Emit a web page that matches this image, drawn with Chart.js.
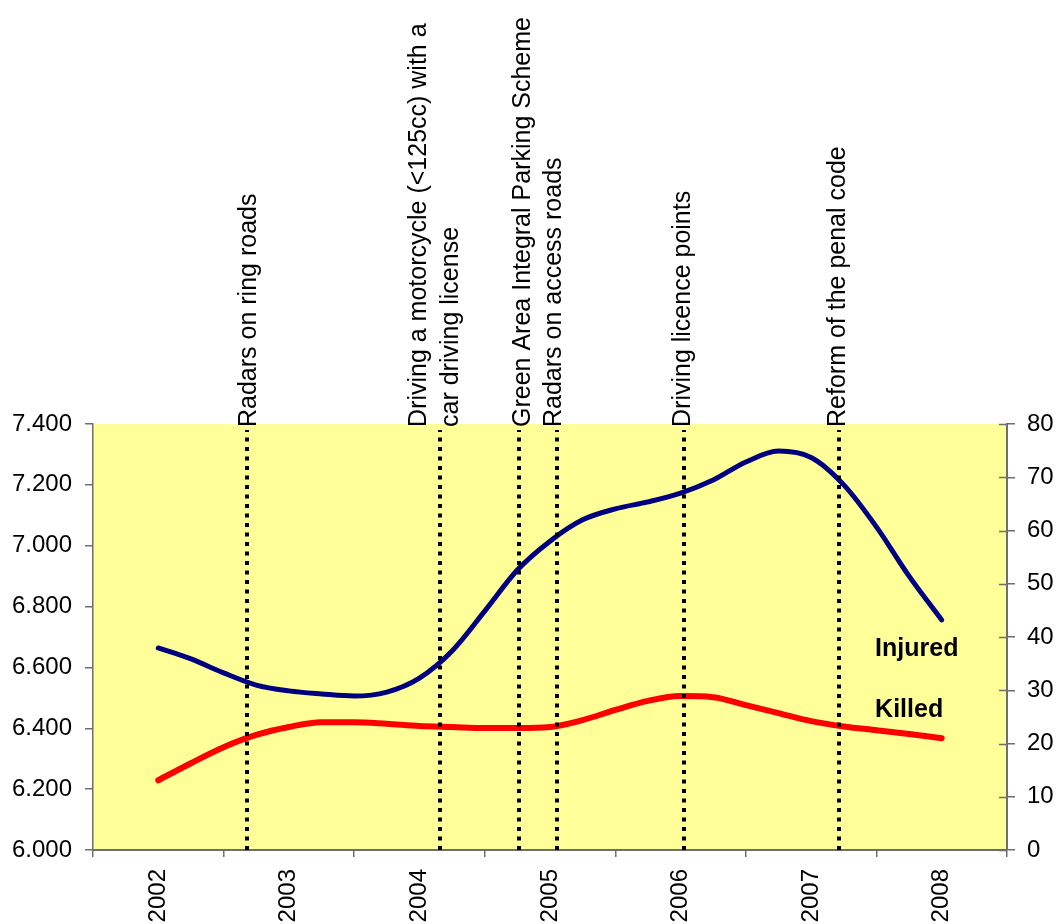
<!DOCTYPE html>
<html>
<head>
<meta charset="utf-8">
<title>Injured and killed</title>
<script src="https://cdn.jsdelivr.net/npm/chart.js@4/dist/chart.umd.min.js"></script>
<style>
  html, body { margin: 0; padding: 0; background: #ffffff; }
  #wrap { width: 1056px; height: 924px; position: relative; }
</style>
</head>
<body>
<div id="wrap"><canvas id="chart"></canvas></div>
<script>
// Year labels on the horizontal axis
const years = [2002, 2003, 2004, 2005, 2006, 2007, 2008];

// Quarterly sample dates (decimal years)
const sampleDates = [
  2002.00, 2002.25, 2002.50, 2002.75,
  2003.00, 2003.25, 2003.50, 2003.75,
  2004.00, 2004.25, 2004.50, 2004.75,
  2005.00, 2005.25, 2005.50, 2005.75,
  2006.00, 2006.25, 2006.50, 2006.75,
  2007.00, 2007.25, 2007.50, 2007.75,
  2008.00
];

// Injured (left axis)
const injured = [
  6664, 6628, 6582, 6542,
  6523, 6513, 6506, 6519,
  6565, 6654, 6785, 6920,
  7015, 7085, 7121, 7144,
  7173, 7216, 7275, 7311,
  7290, 7200, 7062, 6900,
  6756
];

// Killed (right axis)
const killed = [
  13.1, 16.3, 19.3, 21.6,
  23.1, 24.0, 24.0, 23.7,
  23.3, 23.1, 22.9, 22.9,
  23.1, 24.4, 26.3, 28.0,
  28.9, 28.7, 27.2, 25.7,
  24.2, 23.2, 22.5, 21.8,
  21.0
];

// Measures introduced (date of each vertical marker and its caption)
const eventDates = [2002.68, 2004.16, 2004.76, 2005.05, 2006.03, 2007.21];
const eventLabels = [
  ['Radars on ring roads'],
  ['Driving a motorcycle (<125cc) with a', 'car driving license'],
  ['Green Area Integral Parking Scheme'],
  ['Radars on access roads'],
  ['Driving licence points'],
  ['Reform of the penal code']
];
// Horizontal shift (px) of each caption line's baseline relative to its marker
const eventLabelShift = [[9], [-14, 18], [11], [4], [6], [6]];

// Axis tick values
const leftTicks = [6000, 6200, 6400, 6600, 6800, 7000, 7200, 7400];
const rightTicks = [0, 10, 20, 30, 40, 50, 60, 70, 80];

// Series name tags placed inside the plot (date, value on its own axis)
const seriesTags = [
  { text: 'Injured', date: 2007.49, value: 6638, axis: 'yL' },
  { text: 'Killed', date: 2007.49, value: 25.0, axis: 'yR' }
];

const FONT = '"Liberation Sans", Arial, Helvetica, sans-serif';
const AXIS_GREY = '#6e6e6e';

const plotBackground = {
  id: 'plotBackground',
  beforeDraw(chart) {
    const { ctx, chartArea: a } = chart;
    ctx.save();
    ctx.fillStyle = '#FFFF99';
    ctx.fillRect(a.left, a.top, a.right - a.left, a.bottom - a.top);
    ctx.restore();
  }
};

const markers = {
  id: 'markers',
  afterDatasetsDraw(chart) {
    const { ctx, chartArea: a, scales } = chart;
    const xs = scales.x;
    ctx.save();
    // dotted vertical markers
    ctx.strokeStyle = '#000000';
    ctx.lineWidth = 4;
    ctx.setLineDash([4, 5.5]);
    ctx.lineCap = 'butt';
    eventDates.forEach(d => {
      const px = Math.round(xs.getPixelForValue(d));
      ctx.beginPath();
      ctx.moveTo(px, a.bottom);
      ctx.lineTo(px, a.top + 6);
      ctx.stroke();
    });
    ctx.setLineDash([]);
    // vertical captions
    ctx.fillStyle = '#000000';
    ctx.font = '25px ' + FONT;
    ctx.textAlign = 'left';
    ctx.textBaseline = 'alphabetic';
    eventDates.forEach((d, i) => {
      const px = xs.getPixelForValue(d);
      eventLabels[i].forEach((line, j) => {
        ctx.save();
        ctx.translate(px + eventLabelShift[i][j], a.top + 3);
        ctx.rotate(-Math.PI / 2);
        ctx.fillText(line, 0, 0);
        ctx.restore();
      });
    });
    // series tags
    ctx.font = 'bold 25px ' + FONT;
    seriesTags.forEach(t => {
      ctx.fillText(t.text, xs.getPixelForValue(t.date), scales[t.axis].getPixelForValue(t.value));
    });
    // inner half of the right-axis tick marks
    ctx.strokeStyle = AXIS_GREY;
    ctx.lineWidth = 1.5;
    const yr = scales.yR;
    rightTicks.forEach(v => {
      const py = Math.round(yr.getPixelForValue(v)) + 0.5;
      ctx.beginPath();
      ctx.moveTo(a.right - 8, py);
      ctx.lineTo(a.right, py);
      ctx.stroke();
    });
    ctx.restore();
  }
};

new Chart(document.getElementById('chart'), {
  type: 'line',
  data: {
    datasets: [
      {
        label: 'Injured',
        data: sampleDates.map((d, i) => ({ x: d, y: injured[i] })),
        yAxisID: 'yL',
        borderColor: '#000080',
        borderWidth: 5,
        borderCapStyle: 'round',
        borderJoinStyle: 'round',
        pointRadius: 0,
        cubicInterpolationMode: 'monotone',
        fill: false
      },
      {
        label: 'Killed',
        data: sampleDates.map((d, i) => ({ x: d, y: killed[i] })),
        yAxisID: 'yR',
        borderColor: '#FF0000',
        borderWidth: 6,
        borderCapStyle: 'round',
        borderJoinStyle: 'round',
        pointRadius: 0,
        cubicInterpolationMode: 'monotone',
        fill: false
      }
    ]
  },
  options: {
    responsive: true,
    maintainAspectRatio: false,
    animation: false,
    layout: { padding: { top: 424, left: 0, right: 0, bottom: 0 } },
    plugins: {
      legend: { display: false },
      tooltip: { enabled: false },
      title: { display: false }
    },
    scales: {
      x: {
        type: 'linear',
        min: 2001.5,
        max: 2008.5,
        afterBuildTicks(scale) { scale.ticks = years.map(v => ({ value: v })); },
        afterFit(scale) { scale.height = 74; },
        ticks: {
          autoSkip: false,
          minRotation: 90,
          maxRotation: 90,
          padding: 12,
          color: '#000000',
          font: { family: FONT, size: 24 },
          callback: v => String(v)
        },
        grid: { offset: true, drawOnChartArea: false, drawTicks: true, tickLength: 7, color: AXIS_GREY, lineWidth: 1.5 },
        border: { display: true, color: AXIS_GREY, width: 2 }
      },
      yL: {
        type: 'linear',
        position: 'left',
        min: 6000,
        max: 7400,
        afterBuildTicks(scale) { scale.ticks = leftTicks.map(v => ({ value: v })); },
        afterFit(scale) { scale.width = 93; },
        ticks: {
          padding: 13,
          color: '#000000',
          font: { family: FONT, size: 24 },
          callback: v => (v / 1000).toFixed(3)
        },
        grid: { drawOnChartArea: false, drawTicks: true, tickLength: 8, color: AXIS_GREY, lineWidth: 1.5 },
        border: { display: true, color: AXIS_GREY, width: 1.5 }
      },
      yR: {
        type: 'linear',
        position: 'right',
        min: 0,
        max: 80,
        afterBuildTicks(scale) { scale.ticks = rightTicks.map(v => ({ value: v })); },
        afterFit(scale) { scale.width = 49; },
        ticks: {
          padding: 12,
          color: '#000000',
          font: { family: FONT, size: 24 },
          callback: v => String(v)
        },
        grid: { drawOnChartArea: false, drawTicks: true, tickLength: 8, color: AXIS_GREY, lineWidth: 1.5 },
        border: { display: true, color: AXIS_GREY, width: 2 }
      }
    }
  },
  plugins: [plotBackground, markers]
});
</script>
</body>
</html>
